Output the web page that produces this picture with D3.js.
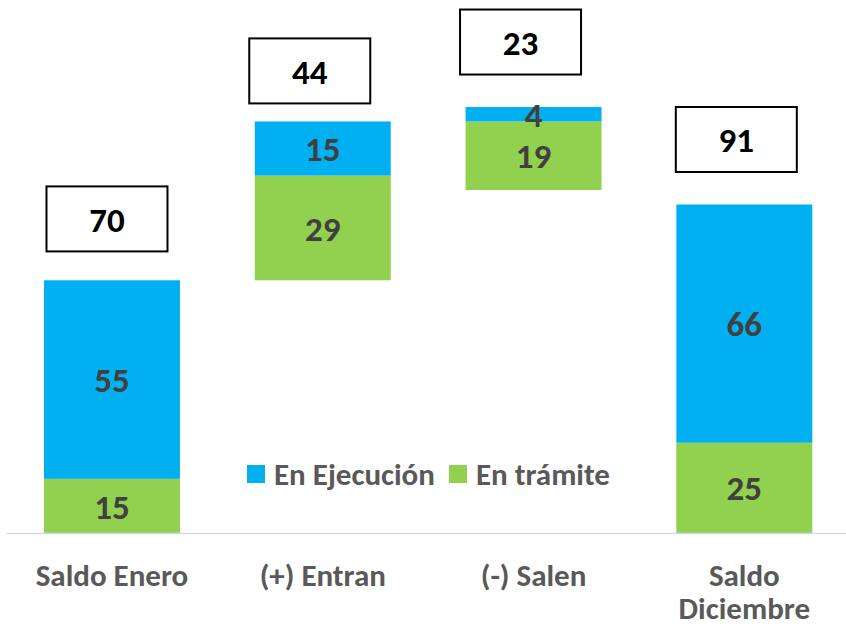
<!DOCTYPE html>
<html>
<head>
<meta charset="utf-8">
<script src="https://cdn.jsdelivr.net/npm/d3@7"></script>
<style>
  html, body { margin: 0; padding: 0; background: #ffffff; }
  svg { display: block; }
  text { font-family: Calibri, Carlito, Lato, "Noto Sans", sans-serif; font-weight: 700; }
</style>
</head>
<body>
<svg id="chart" width="846" height="624"></svg>
<script>
// ---- data ----
const categories = ["Saldo Enero", "(+) Entran", "(-) Salen", "Saldo Diciembre"];
const baseValues = [0, 70, 95, 0];          // invisible waterfall offset
const enTramite = [15, 29, 19, 25];
const enEjecucion = [55, 15, 4, 66];
const totals = [70, 44, 23, 91];
const calloutLevel = [78, 119, 127, 100];   // value level of the bottom of each total box
const seriesNames = ["En Ejecución", "En trámite"];

// ---- layout ----
const W = 846, H = 624;
const colors = { "En Ejecución": "#00B0F0", "En trámite": "#92D050" };
const calloutDx = [-5, -13, -13, -8];
const svg = d3.select("#chart");

const x = d3.scaleBand()
  .domain(categories)
  .range([6.6, 849.7])
  .paddingInner(0.355)
  .paddingOuter(0.1775);

const y = d3.scaleLinear().domain([0, 140]).range([533, 533 - 140 * 3.61]);

const rows = categories.map((c, i) => ({
  cat: c, base: baseValues[i], tram: enTramite[i], ejec: enEjecucion[i], total: totals[i], level: calloutLevel[i], dx: calloutDx[i]
}));

// segments
const segs = [];
rows.forEach(r => {
  segs.push({ cat: r.cat, series: "En trámite", y0: r.base, y1: r.base + r.tram, v: r.tram });
  segs.push({ cat: r.cat, series: "En Ejecución", y0: r.base + r.tram, y1: r.base + r.tram + r.ejec, v: r.ejec });
});

svg.append("g").selectAll("rect").data(segs).join("rect")
  .attr("x", d => x(d.cat))
  .attr("width", x.bandwidth())
  .attr("y", d => y(d.y1))
  .attr("height", d => y(d.y0) - y(d.y1))
  .attr("fill", d => colors[d.series]);

svg.append("g").selectAll("text").data(segs).join("text")
  .attr("x", d => x(d.cat) + x.bandwidth() / 2)
  .attr("y", d => (y(d.y0) + y(d.y1)) / 2)
  .attr("dy", "0.36em")
  .attr("text-anchor", "middle")
  .attr("font-size", 35)
  .attr("fill", "#404040")
  .text(d => d.v);

// x axis
const xAxis = d3.axisBottom(x).tickSize(0).tickPadding(0);
const gx = svg.append("g").attr("transform", `translate(0,${y(0)})`).call(xAxis);
gx.select(".domain").remove();
svg.append("line")
  .attr("x1", 6.6).attr("x2", W).attr("y1", y(0) + 0.5).attr("y2", y(0) + 0.5)
  .attr("stroke", "#D9D9D9").attr("stroke-width", 1.5);
gx.selectAll(".tick text")
  .attr("font-size", 31)
  .attr("fill", "#595959")
  .attr("y", 53)
  .attr("dy", 0)
  .each(function(d) {
    const t = d3.select(this);
    const words = d.split(" ");
    t.text(null);
    let line = [];
    let tspan = t.append("tspan").attr("x", 0).attr("dy", 0);
    words.forEach(w => {
      line.push(w);
      tspan.text(line.join(" "));
      if (tspan.node().getComputedTextLength() > x.step() - 20 && line.length > 1) {
        line.pop();
        tspan.text(line.join(" "));
        line = [w];
        tspan = t.append("tspan").attr("x", 0).attr("dy", 33).text(w);
      }
    });
  });

// total callouts
const boxW = 121, boxH = 65;
const callouts = svg.append("g").selectAll("g").data(rows).join("g")
  .attr("transform", d => `translate(${x(d.cat) + x.bandwidth() / 2 + d.dx},${y(d.level) - boxH / 2})`);
callouts.append("rect")
  .attr("x", -boxW / 2).attr("y", -boxH / 2)
  .attr("width", boxW).attr("height", boxH)
  .attr("fill", "#ffffff").attr("stroke", "#000000").attr("stroke-width", 2);
callouts.append("text")
  .attr("text-anchor", "middle")
  .attr("dy", "0.36em")
  .attr("font-size", 35)
  .attr("fill", "#000000")
  .text(d => d.total);

// legend
const legend = svg.append("g").attr("transform", "translate(247,474)");
seriesNames.forEach((name, i) => {
  const g = legend.append("g").attr("transform", `translate(${i === 0 ? 0 : 202},0)`);
  g.append("rect").attr("x", 0).attr("y", -9).attr("width", 18).attr("height", 18).attr("fill", colors[name]);
  g.append("text").attr("x", 27).attr("dy", "0.36em").attr("font-size", 31).attr("fill", "#595959").text(name);
});
</script>
</body>
</html>
